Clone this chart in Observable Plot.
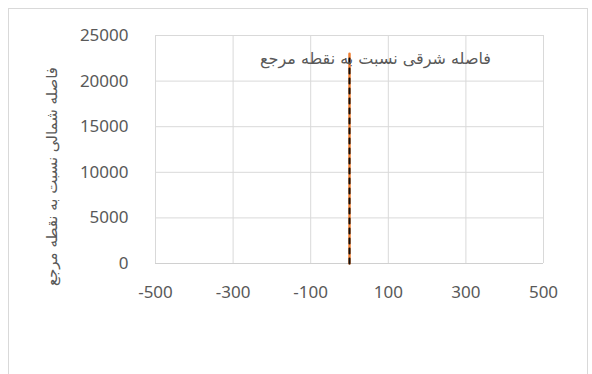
<!DOCTYPE html>
<html>
<head>
<meta charset="utf-8">
<script src="https://cdn.jsdelivr.net/npm/d3@7"></script>
<script src="https://cdn.jsdelivr.net/npm/@observablehq/plot@0.6"></script>
<style>
  html, body { margin: 0; padding: 0; background: #fff; }
  #chart svg { display: block; }
</style>
</head>
<body>
<div id="chart"></div>
<script>
// East / north offsets from the reference point
const eastOffset = [0, 0];
const northOffset = [0, 23000];

const xTicks = [-500, -300, -100, 100, 300, 500];
const yTicks = [0, 5000, 10000, 15000, 20000, 25000];

const titleText = "فاصله شرقی نسبت به نقطه مرجع";
const yTitleText = "فاصله شمالی نسبت به نقطه مرجع";

const points = eastOffset.map((e, i) => ({east: e, north: northOffset[i]}));

const gridColor = "#d9d9d9";
const textColor = "#595959";

const chart = Plot.plot({
  width: 592,
  height: 374,
  marginLeft: 155,
  marginRight: 49,
  marginTop: 35,
  marginBottom: 111,
  style: {fontFamily: "'Noto Sans', 'DejaVu Sans', sans-serif", fontSize: "17px", color: textColor, background: "#fff"},
  x: {domain: [-500, 500]},
  y: {domain: [0, 25000]},
  marks: [
    Plot.gridX(xTicks, {stroke: gridColor, strokeOpacity: 1, strokeWidth: 1}),
    Plot.gridY(yTicks, {stroke: gridColor, strokeOpacity: 1, strokeWidth: 1}),
    Plot.axisX(xTicks, {tickSize: 0, tickPadding: 22, fill: textColor, label: null, fontSize: 17, tickFormat: d => String(d)}),
    Plot.axisY(yTicks, {tickSize: 0, tickPadding: 27, fill: textColor, label: null, fontSize: 17, tickFormat: d => String(d)}),
    Plot.ruleY([0], {stroke: "#d0d0d0", strokeWidth: 1.2}),
    // solid orange series
    Plot.line(points, {x: "east", y: "north", stroke: "#ed7d31", strokeWidth: 2.5}),
    // dashed black series on top
    Plot.line(points, {x: "east", y: "north", stroke: "#111", strokeWidth: 2, strokeDasharray: "5,5"}),
    Plot.text([titleText], {
      frameAnchor: "top", dx: 26, dy: 17, text: d => d,
      fill: textColor, fontSize: 16, fontFamily: "'DejaVu Sans', sans-serif"
    }),
    Plot.text([yTitleText], {
      frameAnchor: "left", textAnchor: "middle", dx: -103, dy: 27, rotate: -90, text: d => d,
      fill: textColor, fontSize: 15, fontFamily: "'DejaVu Sans', sans-serif"
    })
  ]
});

// outer chart-area border
d3.select(chart).insert("rect", ":first-child")
  .attr("x", 8.5).attr("y", 8.5).attr("width", 579).attr("height", 400)
  .attr("fill", "none").attr("stroke", gridColor);

document.getElementById("chart").append(chart);
</script>
</body>
</html>
